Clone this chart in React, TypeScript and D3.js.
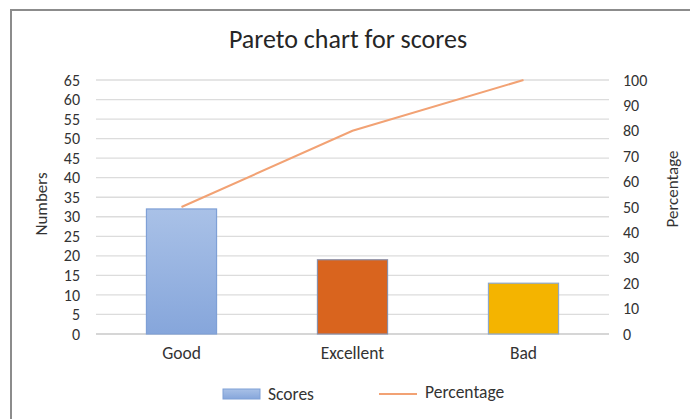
import React from "react";
import * as d3 from "d3";

const width = 690;
const height = 419;

const categories = ["Good", "Excellent", "Bad"];
const scores = [32, 19, 13];
const percentages = [50, 80, 100];
const leftTicks = d3.range(0, 70, 5);
const rightTicks = d3.range(0, 110, 10);
const barColors = ["url(#goodGrad)", "#d9641e", "#f4b400"];
const barStrokes = ["#7fa0d6", "#8a8fa8", "#8fa8c8"];

const margin = { left: 96, right: 81, top: 80, bottom: 85 };
const font = "Calibri, Carlito, 'Open Sans', sans-serif";
const textColor = "#333";

const App = () => {
  const x = d3
    .scaleBand()
    .domain(categories)
    .range([margin.left, width - margin.right])
    .paddingInner(0.59)
    .paddingOuter(0.295);

  const yLeft = d3.scaleLinear().domain([0, 65]).range([height - margin.bottom, margin.top]);
  const yRight = d3.scaleLinear().domain([0, 100]).range([height - margin.bottom, margin.top]);

  const line = d3
    .line<number>()
    .x((d, i) => x(categories[i])! + x.bandwidth() / 2)
    .y((d) => yRight(d));

  return (
    <svg width={width} height={height} style={{ display: "block", position: "absolute", left: 0, top: 0 }}>
      <defs>
        <linearGradient id="goodGrad" x1="0" y1="0" x2="0" y2="1">
          <stop offset="0%" stopColor="#a9c1e7" />
          <stop offset="100%" stopColor="#86a6db" />
        </linearGradient>
      </defs>
      <rect x={0} y={0} width={width} height={height} fill="#fff" />
      <rect x={11} y={10} width={width + 10} height={height + 10} fill="#fff" stroke="#8c8c8c" strokeWidth={2} />

      <text x={348} y={48} textAnchor="middle" fontFamily={font} fontSize={26} fill="#262626">
        Pareto chart for scores
      </text>

      {leftTicks.map((t) => (
        <g key={t}>
          <line
            x1={margin.left}
            x2={width - margin.right}
            y1={yLeft(t)}
            y2={yLeft(t)}
            stroke={t === 0 ? "#c8c8c8" : "#dcdcdc"}
            strokeWidth={1.3}
          />
          <text x={80} y={yLeft(t)} dy="0.35em" textAnchor="end" fontFamily={font} fontSize={16} fill={textColor}>
            {t}
          </text>
        </g>
      ))}

      {rightTicks.map((t) => (
        <text key={t} x={623} y={yRight(t)} dy="0.35em" textAnchor="start" fontFamily={font} fontSize={16} fill={textColor}>
          {t}
        </text>
      ))}

      <text
        transform={`translate(47,${204}) rotate(-90)`}
        textAnchor="middle"
        fontFamily={font}
        fontSize={17}
        fill={textColor}
      >
        Numbers
      </text>
      <text
        transform={`translate(678,${189}) rotate(-90)`}
        textAnchor="middle"
        fontFamily={font}
        fontSize={17}
        fill={textColor}
      >
        Percentage
      </text>

      {scores.map((s, i) => (
        <rect
          key={categories[i]}
          x={x(categories[i])}
          y={yLeft(s)}
          width={x.bandwidth()}
          height={yLeft(0) - yLeft(s)}
          fill={barColors[i]}
          stroke={barStrokes[i]}
          strokeWidth={1.2}
        />
      ))}

      <path d={line(percentages) || ""} fill="none" stroke="#f2a274" strokeWidth={2} />

      {categories.map((c) => (
        <text
          key={c}
          x={x(c)! + x.bandwidth() / 2}
          y={359}
          textAnchor="middle"
          fontFamily={font}
          fontSize={17.5}
          fill={textColor}
        >
          {c}
        </text>
      ))}

      <rect x={223} y={389} width={37} height={10} fill="url(#goodGrad)" stroke="#7fa0d6" strokeWidth={1} />
      <text x={268} y={400} fontFamily={font} fontSize={17.5} fill={textColor}>
        Scores
      </text>
      <line x1={379} x2={417} y1={394} y2={394} stroke="#f2a274" strokeWidth={2} />
      <text x={425} y={398} fontFamily={font} fontSize={17.5} fill={textColor}>
        Percentage
      </text>
    </svg>
  );
};

export default App;
